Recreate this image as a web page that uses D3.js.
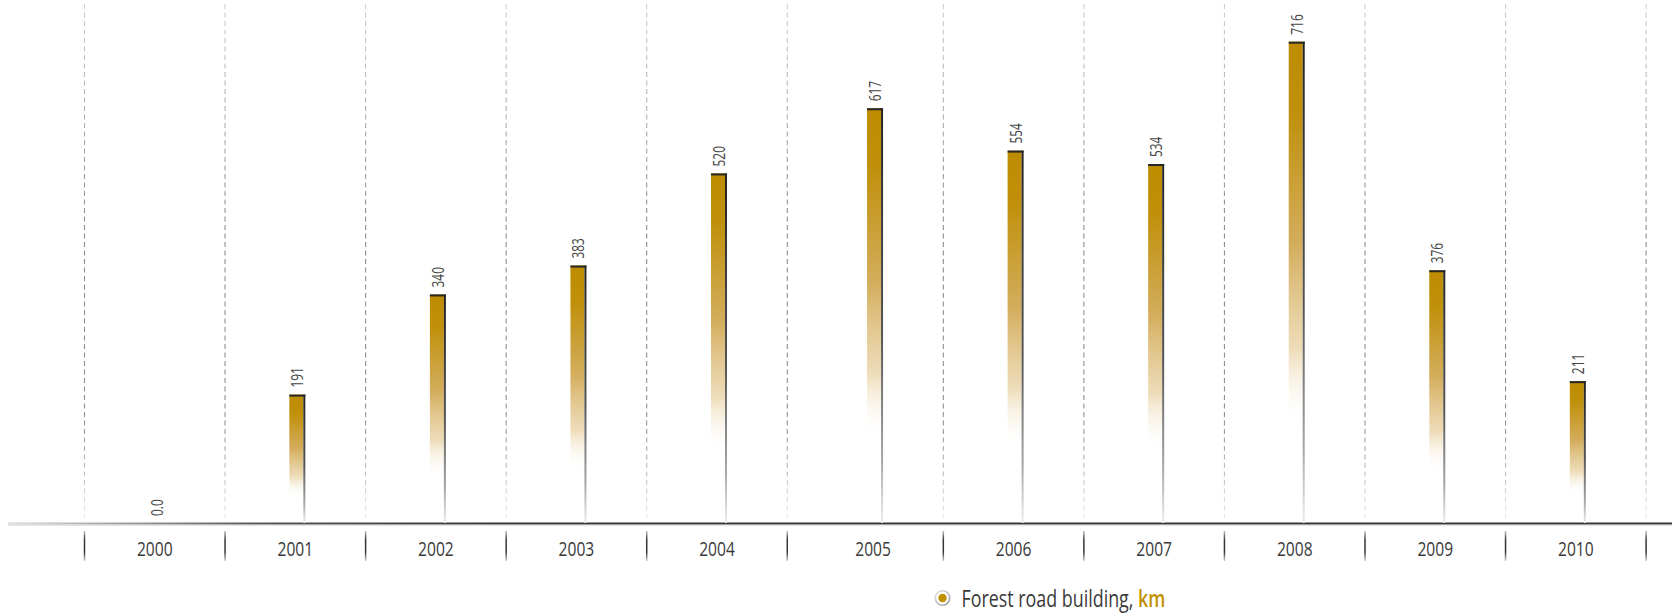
<!DOCTYPE html>
<html>
<head>
<meta charset="utf-8">
<script src="https://cdn.jsdelivr.net/npm/d3@7/dist/d3.min.js"></script>
<style>
  html, body { margin: 0; padding: 0; background: #ffffff; }
  svg { display: block; }
  .lbl { font-family: "Open Sans", "Noto Sans", sans-serif; }
</style>
</head>
<body>
<svg id="chart" width="1680" height="614"></svg>
<script>
// Forest road building per year, km
const years = ["2000", "2001", "2002", "2003", "2004", "2005", "2006", "2007", "2008", "2009", "2010"];
const roadKm = [0, 191, 340, 383, 520, 617, 554, 534, 716, 376, 211];
const legendLabel = "Forest road building, ";
const legendUnit = "km";

const W = 1680, H = 614;
const baseY = 523;
const gold = "#c09000";
const textColor = "#3a3a3a";
const narrow = 0.8;       // horizontal squeeze for the condensed look of the labels

const svg = d3.select("#chart");
const defs = svg.append("defs");

// Year bands; the second half of the decade sits after a small break
const x = d3.scaleBand().domain(years).range([84.5, 1630.6]).padding(0);
const breakAfter = "2004";
const breakGap = 15.5;
const shift = d => (years.indexOf(d) > years.indexOf(breakAfter) ? breakGap : 0);
const bandLeft = d => x(d) + shift(d);
const bandRight = d => x(d) + x.bandwidth() + shift(d);
const bandMid = d => x(d) + x.bandwidth() / 2 + shift(d);

const y = d3.scaleLinear().domain([0, 778]).range([baseY, 0]);

// Gradients
const barGrad = defs.append("linearGradient").attr("id", "barFill")
  .attr("x1", 0).attr("y1", 0).attr("x2", 0).attr("y2", 1);
[[0, "#bd8c00", 1], [0.14, "#c0900a", 1], [0.42, "#d3ad5c", 1], [0.64, "#ead4a8", 0.8], [0.8, "#ffffff", 0]]
  .forEach(([o, c, a]) => barGrad.append("stop").attr("offset", o).attr("stop-color", c).attr("stop-opacity", a));

const edgeGrad = defs.append("linearGradient").attr("id", "barEdge")
  .attr("x1", 0).attr("y1", 0).attr("x2", 0).attr("y2", 1);
[[0, "#222222"], [0.55, "#555555"], [0.85, "#a8a8a8"], [1, "#eeeeee"]]
  .forEach(([o, c]) => edgeGrad.append("stop").attr("offset", o).attr("stop-color", c));

const gridGrad = defs.append("linearGradient").attr("id", "gridStroke")
  .attr("gradientUnits", "userSpaceOnUse").attr("x1", 0).attr("y1", 0).attr("x2", 0).attr("y2", baseY);
[[0, "#d0d0d0"], [0.45, "#8c8c8c"], [0.8, "#909090"], [1, "#eeeeee"]]
  .forEach(([o, c]) => gridGrad.append("stop").attr("offset", o).attr("stop-color", c));

const tickGrad = defs.append("linearGradient").attr("id", "tickStroke")
  .attr("gradientUnits", "userSpaceOnUse").attr("x1", 0).attr("y1", 531).attr("x2", 0).attr("y2", 561);
[[0, "#bbbbbb"], [0.3, "#333333"], [0.7, "#333333"], [1, "#cccccc"]]
  .forEach(([o, c]) => tickGrad.append("stop").attr("offset", o).attr("stop-color", c));

const axisGrad = defs.append("linearGradient").attr("id", "axisStroke")
  .attr("gradientUnits", "userSpaceOnUse").attr("x1", 8).attr("y1", 0).attr("x2", 1672).attr("y2", 0);
[[0, "#dddddd"], [0.15, "#555555"], [0.3, "#333333"], [1, "#333333"]]
  .forEach(([o, c]) => axisGrad.append("stop").attr("offset", o).attr("stop-color", c));

const ringGrad = defs.append("linearGradient").attr("id", "ringStroke")
  .attr("x1", 0).attr("y1", 0).attr("x2", 1).attr("y2", 1);
[[0, "#e6e6e6"], [1, "#9a9a9a"]]
  .forEach(([o, c]) => ringGrad.append("stop").attr("offset", o).attr("stop-color", c));

// Band separators: left edge of the first band and right edge of each band
const separators = [bandLeft(years[0])].concat(years.map(bandRight));

svg.append("g").selectAll("line").data(separators).join("line")
  .attr("x1", d => d).attr("x2", d => d)
  .attr("y1", 4).attr("y2", baseY - 1)
  .attr("stroke", "url(#gridStroke)")
  .attr("stroke-width", 1.1)
  .attr("stroke-dasharray", "5,3.5");

// Axis line with a soft shadow underneath
svg.append("line")
  .attr("x1", 8).attr("x2", 1672).attr("y1", baseY + 0.5).attr("y2", baseY + 0.5)
  .attr("stroke", "url(#axisStroke)").attr("stroke-width", 1.8);
svg.append("line")
  .attr("x1", 8).attr("x2", 1672).attr("y1", baseY + 2.2).attr("y2", baseY + 2.2)
  .attr("stroke", "#c8c8c8").attr("stroke-width", 1).attr("opacity", 0.7);

// Tick marks below the axis
svg.append("g").selectAll("line").data(separators).join("line")
  .attr("x1", d => d).attr("x2", d => d)
  .attr("y1", 531).attr("y2", 561)
  .attr("stroke", "url(#tickStroke)")
  .attr("stroke-width", 1.5);

// Year labels
svg.append("g").selectAll("text").data(years).join("text")
  .attr("class", "lbl")
  .attr("transform", d => `translate(${bandMid(d)},556) scale(${narrow},1)`)
  .attr("text-anchor", "middle")
  .attr("font-size", 19.5)
  .attr("fill", textColor)
  .text(d => d);

// Bars
const rows = years.map((yr, i) => ({ year: yr, value: roadKm[i] }));
const barW = 14, edgeW = 2;
const barX = d => bandMid(d.year) - 6;

const bars = svg.append("g").selectAll("g").data(rows.filter(d => d.value > 0)).join("g");

bars.append("rect")
  .attr("x", d => barX(d))
  .attr("y", d => y(d.value))
  .attr("width", barW)
  .attr("height", d => baseY - y(d.value))
  .attr("fill", "url(#barFill)");

bars.append("rect")
  .attr("x", d => barX(d) + barW)
  .attr("y", d => y(d.value))
  .attr("width", edgeW)
  .attr("height", d => baseY - y(d.value))
  .attr("fill", "url(#barEdge)");

bars.append("rect")
  .attr("x", d => barX(d))
  .attr("y", d => y(d.value))
  .attr("width", barW + edgeW)
  .attr("height", 2)
  .attr("fill", "#262626");

// Value labels, rotated above each bar
svg.append("g").selectAll("text").data(rows).join("text")
  .attr("class", "lbl")
  .attr("transform", d => `translate(${bandMid(d.year) + 8},${y(d.value) - 7}) rotate(-90) scale(0.72,1)`)
  .attr("text-anchor", "start")
  .attr("font-size", 16.5)
  .attr("fill", "#444444")
  .text(d => d.value === 0 ? "0.0" : d3.format("d")(d.value));

// Legend: marker plus one label, squeezed to the condensed width
const legend = svg.append("g").attr("transform", "translate(942.5,598)");
legend.append("circle").attr("r", 7.2).attr("fill", "#ffffff")
  .attr("stroke", "url(#ringStroke)").attr("stroke-width", 1.6);
legend.append("circle").attr("r", 4.2).attr("fill", gold);

const legendText = svg.append("text")
  .attr("class", "lbl")
  .attr("font-size", 23.5)
  .attr("fill", textColor);
legendText.append("tspan").attr("xml:space", "preserve").text(legendLabel);
legendText.append("tspan").attr("fill", gold).attr("font-weight", 600).text(legendUnit);

const legendStart = 961.5, legendEnd = 1165.5;
const naturalW = legendText.node().getComputedTextLength();
legendText.attr("transform",
  `translate(${legendStart},606.5) scale(${(legendEnd - legendStart) / naturalW},1)`);
</script>
</body>
</html>
